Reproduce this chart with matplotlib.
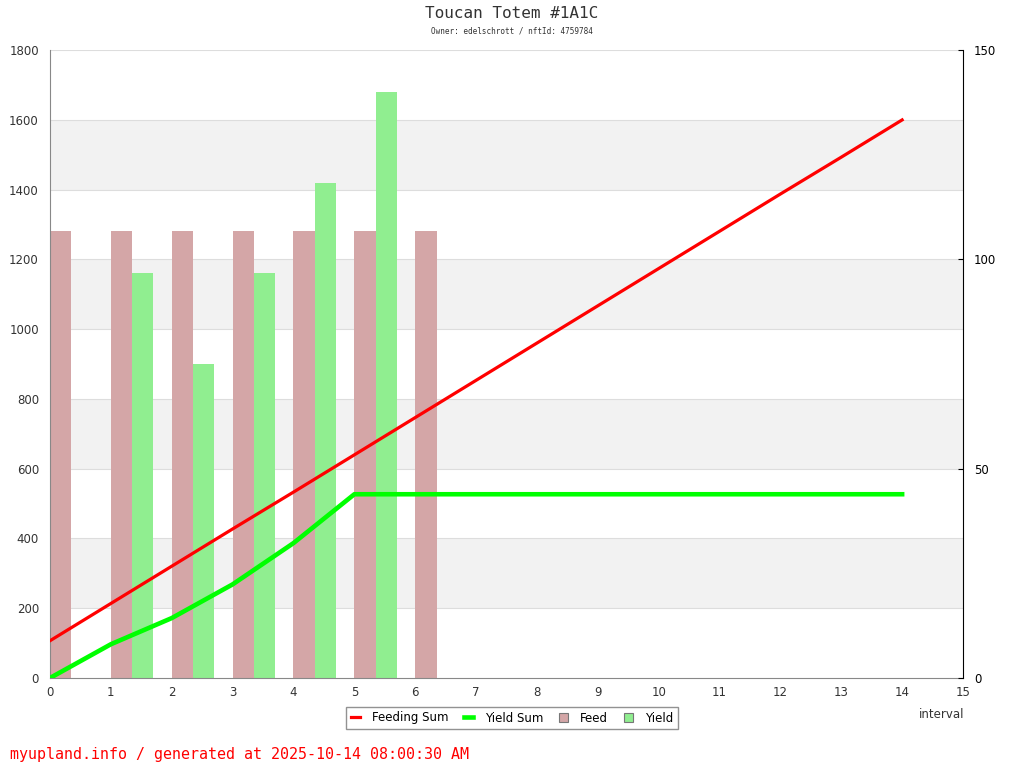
import numpy as np
import matplotlib.pyplot as plt

# donnees
feed_x = [0, 1, 2, 3, 4, 5, 6]
feed = [1280, 1280, 1280, 1280, 1280, 1280, 1280]
yield_x = [1, 2, 3, 4, 5]
yields = [1160, 900, 1160, 1420, 1680]
sum_x = list(range(15))
feeding_sum = [8.9, 17.8, 26.7, 35.6, 44.4, 53.3, 62.2, 71.1, 80.0, 88.9, 97.8, 106.7, 115.6, 124.4, 133.3]
yield_sum = [0, 8.06, 14.31, 22.36, 32.22, 43.89, 43.89, 43.89, 43.89, 43.89, 43.89, 43.89, 43.89, 43.89, 43.89]

fig = plt.figure(figsize=(10.24, 7.68), dpi=100)
ax = fig.add_axes([50/1024, 1-678/768, 913/1024, 628/768])
ax2 = ax.twinx()

# bandes grises
for lo in [200, 600, 1000, 1400]:
    ax.axhspan(lo, lo+200, color="#f2f2f2", zorder=0, lw=0)
for y in range(200, 1801, 200):
    ax.axhline(y, color="#dddddd", lw=0.8, zorder=0.5)

w = 0.35
ax.bar(feed_x, feed, width=w, align="edge", color="#d4a6a7", zorder=2, label="Feed")
ax.bar([x + w for x in yield_x], yields, width=w, align="edge", color="#90ee90", zorder=2, label="Yield")

ax2.plot(sum_x, feeding_sum, color="#ff0000", lw=2.3, label="Feeding Sum", zorder=3)
ax2.plot(sum_x, yield_sum, color="#00ff00", lw=3.3, label="Yield Sum", zorder=3)

ax.set_xlim(0, 15)
ax.set_ylim(0, 1800)
ax2.set_ylim(0, 150)
ax.set_xticks(range(16))
ax.set_yticks(range(0, 1801, 200))
ax2.set_yticks([0, 50, 100, 150])
ax.tick_params(axis="both", labelsize=8.5, colors="#333333", length=0, pad=8)
ax.tick_params(axis="x", pad=6)
ax2.tick_params(axis="y", labelsize=8.5, length=3.5, direction="in", color="#000000", labelcolor="#000000", pad=8)
ax.spines["top"].set_visible(False)
ax2.spines["top"].set_visible(False)
ax.spines["left"].set_color("#888888")
ax.spines["bottom"].set_color("#888888")
ax2.spines["left"].set_visible(False)
ax2.spines["bottom"].set_visible(False)
ax2.spines["right"].set_color("#000000")
ax.spines["right"].set_visible(False)
ax2.set_zorder(ax.get_zorder() + 1)
ax2.patch.set_visible(False)

# legende
h1, l1 = ax2.get_legend_handles_labels()
h2, l2 = ax.get_legend_handles_labels()
leg = fig.legend(h1 + h2, l1 + l2, ncol=4, loc="center", bbox_to_anchor=(512/1024, 1-718/768),
                 fontsize=8.5, fancybox=False, edgecolor="#777777", handlelength=0.8,
                 handleheight=0.7, columnspacing=1.3, handletextpad=1.0, borderpad=0.4)
leg.get_frame().set_linewidth(1.0)
for lh in leg.legend_handles[2:]:
    lh.set_edgecolor("#777777")
    lh.set_linewidth(0.8)

fig.text(942/1024, 1-714/768, "interval", ha="center", va="center", fontsize=8.5, color="#333333")
fig.text(512/1024, 1-14/768, "Toucan Totem #1A1C", ha="center", va="center",
         fontsize=11.5, family="DejaVu Sans Mono", color="#333333")
fig.text(512/1024, 1-31/768, "Owner: edelschrott / nftId: 4759784", ha="center", va="center",
         fontsize=5.5, family="DejaVu Sans Mono", color="#333333")
fig.text(10/1024, 1-754/768, "myupland.info / generated at 2025-10-14 08:00:30 AM", ha="left", va="center",
         fontsize=10.8, family="DejaVu Sans Mono", color="#ff0000")

plt.savefig("out.png", dpi=100)
